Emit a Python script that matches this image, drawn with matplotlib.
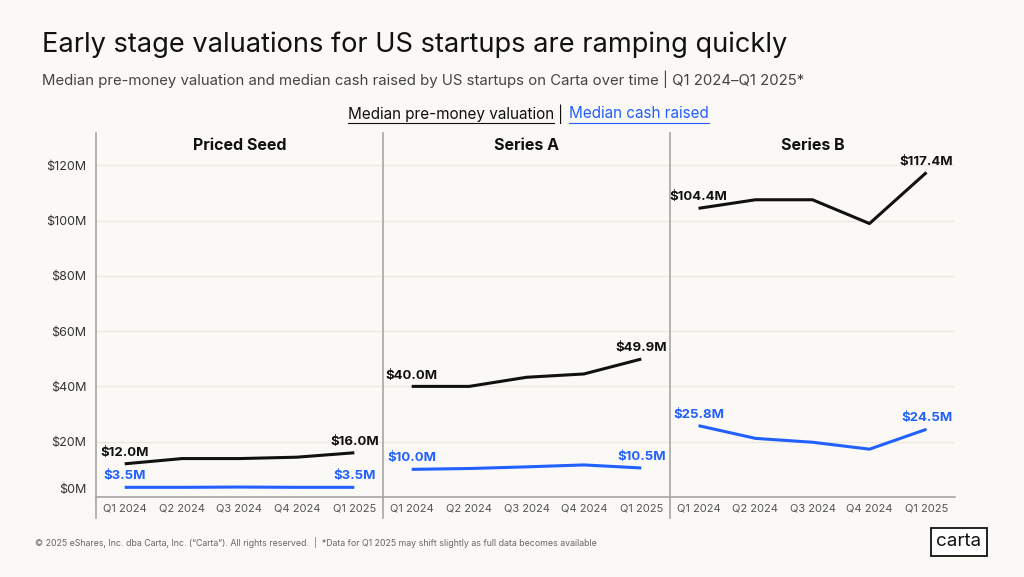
import matplotlib
matplotlib.use('Agg')
import matplotlib.pyplot as plt
import matplotlib.transforms as mtransforms

# values in $M
quarters = ['Q1 2024', 'Q2 2024', 'Q3 2024', 'Q4 2024', 'Q1 2025']
stages = ['Priced Seed', 'Series A', 'Series B']
seed_valuation = [12.0, 13.9, 13.9, 14.4, 16.0]
seed_cash = [3.5, 3.5, 3.6, 3.5, 3.5]
series_a_valuation = [40.0, 40.0, 43.3, 44.5, 49.9]
series_a_cash = [10.0, 10.3, 10.9, 11.6, 10.5]
series_b_valuation = [104.4, 107.5, 107.5, 98.9, 117.4]
series_b_cash = [25.8, 21.2, 19.8, 17.3, 24.5]
y_ticks = [0, 20, 40, 60, 80, 100, 120]

BG = '#FBF9F5'
BLACK = '#111111'
BLUE = '#2260FF'
GRID = '#ECE9E4'
AXIS = '#A8A6A2'

plt.rcParams['font.family'] = ['Inter', 'DejaVu Sans']

fig = plt.figure(figsize=(10.24, 5.77), dpi=100, facecolor=BG)

W, H = 1024, 577
left0, panel_w = 96, 287
top, bottom = 133, 497
px_per_m = 2.765
ymax = (bottom - top) / px_per_m

valuations = [seed_valuation, series_a_valuation, series_b_valuation]
cash = [seed_cash, series_a_cash, series_b_cash]

axes = []
for i, stage in enumerate(stages):
    ax = fig.add_axes([(left0 + i * panel_w) / W, (H - bottom) / H,
                       (panel_w - (2 if i == 2 else 0)) / W, (bottom - top) / H])
    ax.set_facecolor(BG)
    xs = range(len(quarters))
    ax.set_xlim(-0.5, len(quarters) - 0.5)
    ax.set_ylim(0, ymax)
    for t in y_ticks[1:]:
        ax.axhline(t, color=GRID, lw=1.0, zorder=0)
    for s in ['top', 'right', 'left']:
        ax.spines[s].set_visible(False)
    ax.spines['bottom'].set_color(AXIS)
    ax.spines['bottom'].set_linewidth(1.2)
    ax.axvline(-0.5, ymin=-0.058, ymax=1, color=AXIS, lw=1.2, clip_on=False)

    ax.plot(xs, valuations[i], color=BLACK, lw=2.2, solid_capstyle='butt', zorder=3)
    ax.plot(xs, cash[i], color=BLUE, lw=2.2, solid_capstyle='butt', zorder=3)
    for series, col in [(valuations[i], BLACK), (cash[i], BLUE)]:
        for j in [0, len(series) - 1]:
            ax.annotate('${:.1f}M'.format(series[j]), (j, series[j]),
                        xytext=(0, 3.5), textcoords='offset points',
                        ha='center', va='bottom', fontsize=9.5,
                        fontweight='bold', color=col)

    ax.text(0.5, 1 - 12 / (bottom - top), stage, transform=ax.transAxes,
            ha='center', va='center', fontsize=11.5, fontweight='bold',
            color=BLACK)

    ax.set_xticks(list(xs))
    ax.set_xticklabels(quarters, fontsize=8, color='#555555')
    ax.tick_params(axis='x', length=0, pad=5)
    ax.set_yticks(y_ticks)
    if i == 0:
        ax.set_yticklabels(['${}M'.format(t) for t in y_ticks],
                           fontsize=9, color='#333333')
        ax.tick_params(axis='y', length=0, pad=7)
        zero = ax.get_yticklabels()[0]
        zero.set_transform(zero.get_transform() +
                           mtransforms.ScaledTranslation(0, 9 / 100, fig.dpi_scale_trans))
    else:
        ax.tick_params(axis='y', length=0, labelleft=False)
    axes.append(ax)

# titles
fig.text(42 / W, 1 - 45 / H, 'Early stage valuations for US startups are ramping quickly',
         fontsize=19.6, color=BLACK, va='center', ha='left')
fig.text(42 / W, 1 - 79 / H,
         'Median pre-money valuation and median cash raised by US startups on Carta over time | Q1 2024\u2013Q1 2025*',
         fontsize=10.75, color='#444444', va='center', ha='left')

# header legend with underlines
hy = 1 - 114 / H
sep = fig.text(561 / W, hy, '|', fontsize=11, color=BLACK, ha='center', va='center')
t1 = fig.text(554 / W, hy, 'Median pre-money valuation', fontsize=11, color=BLACK,
              ha='right', va='center')
t2 = fig.text(569 / W, hy, 'Median cash raised', fontsize=11, color=BLUE,
              ha='left', va='center')
fig.canvas.draw()
r = fig.canvas.get_renderer()
for t, col in [(t1, BLACK), (t2, BLUE)]:
    bb = t.get_window_extent(r).transformed(fig.transFigure.inverted())
    fig.add_artist(plt.Line2D([bb.x0, bb.x1], [bb.y0 - 1.5 / H] * 2,
                              transform=fig.transFigure, color=col, lw=0.8))

# footer
fig.text(35 / W, 1 - 543 / H,
         '\u00a9 2025 eShares, Inc. dba Carta, Inc. (\u201cCarta\u201d). All rights reserved.  |  '
         '*Data for Q1 2025 may shift slightly as full data becomes available',
         fontsize=6.35, color='#666666', va='center', ha='left')
fig.text(959 / W, 1 - 542 / H, 'carta', fontsize=13.5, color=BLACK, ha='center', va='center',
         bbox=dict(boxstyle='square,pad=0.3', fc='white', ec=BLACK, lw=1.3))

fig.savefig('out.png', dpi=100, facecolor=BG)
